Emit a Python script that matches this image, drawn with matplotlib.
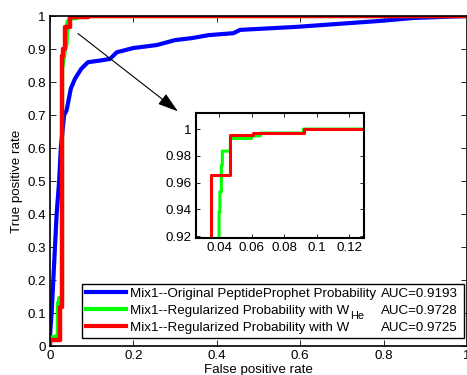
import matplotlib
matplotlib.use("Agg")
import matplotlib.pyplot as plt

plt.rcParams['font.family'] = ['Liberation Sans', 'DejaVu Sans']
plt.rcParams['font.size'] = 9.6

# ROC curves (false positive rate, true positive rate)
blue_x = [0, 0, 0.004, 0.008, 0.012, 0.016, 0.022, 0.026, 0.034, 0.04, 0.05, 0.06, 0.075,
          0.091, 0.12, 0.144, 0.16, 0.2, 0.256, 0.30, 0.34, 0.38, 0.44, 0.456, 0.59, 0.79, 0.87, 1.0]
blue_y = [0, 0.03, 0.1, 0.2, 0.3, 0.4, 0.5, 0.6, 0.7, 0.715, 0.78, 0.81, 0.84,
          0.86, 0.865, 0.87, 0.89, 0.903, 0.912, 0.927, 0.933, 0.942, 0.948, 0.958, 0.967, 0.985, 0.994, 1.0]

green_x = [0, 0, 0.019, 0.019, 0.022, 0.022, 0.029, 0.029, 0.033, 0.036, 0.040, 0.040, 0.0405,
           0.0405, 0.0414, 0.0414, 0.042, 0.042, 0.047, 0.047, 0.060, 0.060, 0.0655, 0.0655,
           0.092, 0.092, 1.0]
green_y = [0, 0.025, 0.03, 0.13, 0.135, 0.145, 0.145, 0.84, 0.87, 0.9, 0.915, 0.938, 0.938,
           0.953, 0.953, 0.973, 0.973, 0.9835, 0.9835, 0.993, 0.993, 0.995, 0.995, 0.997,
           0.997, 1.0, 1.0]

red_x = [0, 0, 0.024, 0.024, 0.028, 0.028, 0.031, 0.031, 0.035, 0.035, 0.047, 0.047,
         0.061, 0.061, 0.092, 0.092, 1.0]
red_y = [0, 0.018, 0.018, 0.118, 0.118, 0.88, 0.88, 0.9, 0.9, 0.966, 0.966, 0.9955,
         0.9955, 0.997, 0.997, 1.0, 1.0]

labels = ["Mix1--Original PeptideProphet Probability",
          "Mix1--Regularized Probability with W",
          "Mix1--Regularized Probability with W"]
subscripts = ["", "He", ""]
aucs = ["AUC=0.9193", "AUC=0.9728", "AUC=0.9725"]

main_ticks = [0, 0.1, 0.2, 0.3, 0.4, 0.5, 0.6, 0.7, 0.8, 0.9, 1]
x_ticks = [0, 0.2, 0.4, 0.6, 0.8, 1]
inset_xticks = [0.04, 0.06, 0.08, 0.1, 0.12]
inset_yticks = [0.92, 0.94, 0.96, 0.98, 1]

fig = plt.figure(figsize=(4.67, 3.75), dpi=100)
ax = fig.add_axes([0.107, 0.0773, 0.893, 0.88])

ax.plot(blue_x, blue_y, color='#0000ff', lw=3, label=labels[0])
ax.plot(green_x, green_y, color='#00ff00', lw=3, label=labels[1])
ax.plot(red_x, red_y, color='#ff0000', lw=3.2, label=labels[2])

ax.set_xlim(0, 1)
ax.set_ylim(0, 1)
ax.set_xticks(x_ticks)
ax.set_xticklabels(['0', '0.2', '0.4', '0.6', '0.8', '1'])
ax.set_yticks(main_ticks)
ax.set_yticklabels(['0', '0.1', '0.2', '0.3', '0.4', '0.5', '0.6', '0.7', '0.8', '0.9', '1'])
ax.tick_params(direction='in', top=True, right=True, length=4, width=0.6, pad=3)
for s in ax.spines.values():
    s.set_linewidth(1.2)
ax.set_xlabel('False positive rate', labelpad=1)
ax.set_ylabel('True positive rate', labelpad=3)

ax.annotate('', xy=(0.312, 0.706), xytext=(0.062, 0.952),
            arrowprops=dict(arrowstyle='-|>,head_length=0.7,head_width=0.22', lw=0.8,
                            color='black', mutation_scale=18))

leg = ax.legend(loc='lower left', bbox_to_anchor=(0.077, 0.024, 0.916, 0.167), mode='expand',
                fancybox=False, edgecolor='black', framealpha=1, borderpad=0.3,
                labelspacing=0.35, handlelength=3.0, handletextpad=0.3, borderaxespad=0)
leg.get_frame().set_linewidth(1.0)
for line in leg.get_lines():
    line.set_linewidth(3)

fig.canvas.draw()
inv = fig.transFigure.inverted()
for t, a, sub in zip(leg.get_texts(), aucs, subscripts):
    bb = t.get_window_extent()
    xr, yc = inv.transform((bb.x1, (bb.y0 + bb.y1) / 2))
    fig.text(458 / 467, yc, a, ha='right', va='center')
    if sub:
        fig.text(xr + 0.5 / 467, yc - 5 / 375, sub, ha='left', va='center', fontsize=7.8)

# inset zoom
ins = fig.add_axes([0.4197, 0.3653, 0.3597, 0.3333])
ins.plot(green_x, green_y, color='#00ff00', lw=2.2)
ins.plot(red_x, red_y, color='#ff0000', lw=2.2)
ins.set_xlim(0.0258, 0.1292)
ins.set_ylim(0.9185, 1.012)
ins.set_xticks(inset_xticks)
ins.set_xticklabels(['0.04', '0.06', '0.08', '0.1', '0.12'])
ins.set_yticks(inset_yticks)
ins.set_yticklabels(['0.92', '0.94', '0.96', '0.98', '1'])
ins.tick_params(direction='in', top=True, right=True, length=3, width=0.6, pad=3)
for s in ins.spines.values():
    s.set_linewidth(1.5)

fig.savefig('out.png', dpi=100)
